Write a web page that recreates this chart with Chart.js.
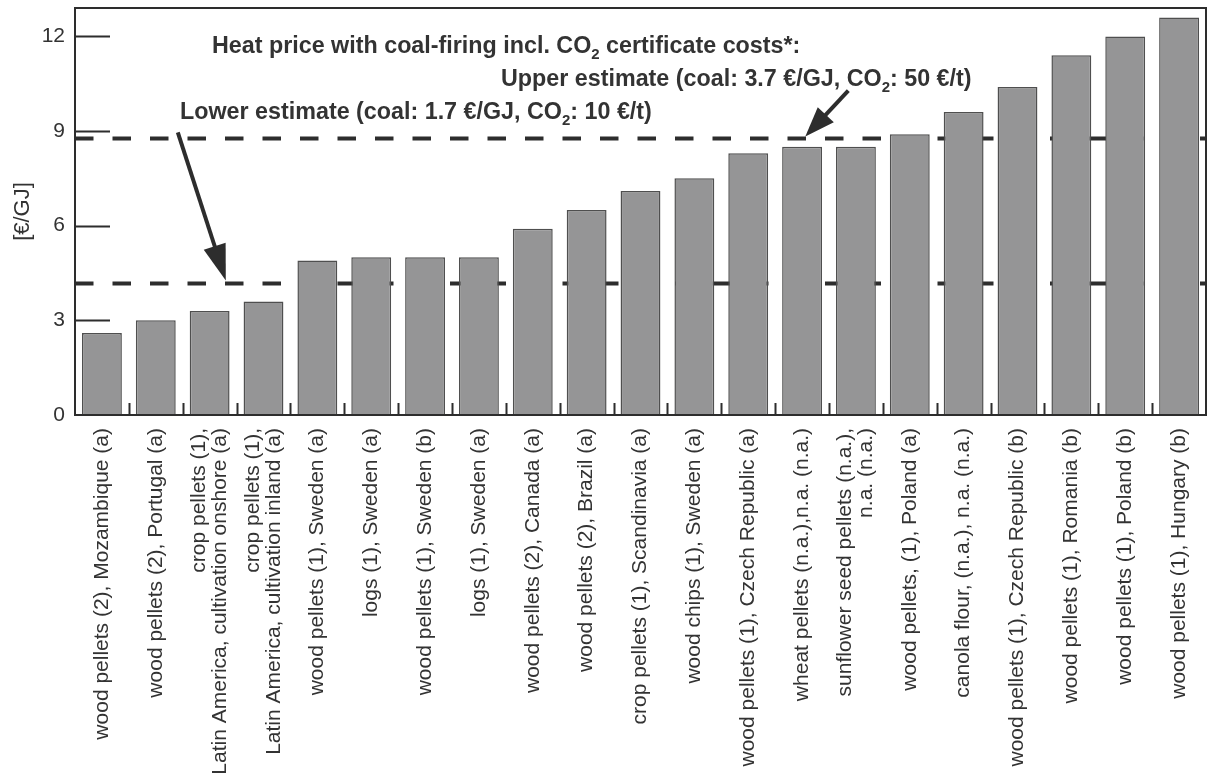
<!DOCTYPE html>
<html>
<head>
<meta charset="utf-8">
<script src="https://cdn.jsdelivr.net/npm/chart.js@4.4.0/dist/chart.umd.min.js"></script>
<style>
  html, body { margin: 0; padding: 0; background: #ffffff; }
  #wrap { width: 1208px; height: 775px; position: relative; }
</style>
</head>
<body>
<div id="wrap"><canvas id="c" width="1208" height="775"></canvas></div>
<script>
// Fuel / origin categories (ordered by heat price)
const categories = [
  'wood pellets (2), Mozambique (a)',
  'wood pellets (2), Portugal (a)',
  ['crop pellets (1),', 'Latin America, cultivation onshore (a)'],
  ['crop pellets (1),', 'Latin America, cultivation inland (a)'],
  'wood pellets (1), Sweden (a)',
  'logs (1), Sweden (a)',
  'wood pellets (1), Sweden (b)',
  'logs (1), Sweden (a)',
  'wood pellets (2), Canada (a)',
  'wood pellets (2), Brazil (a)',
  'crop pellets (1), Scandinavia (a)',
  'wood chips (1), Sweden (a)',
  'wood pellets (1), Czech Republic (a)',
  'wheat pellets (n.a.),n.a. (n.a.)',
  ['sunflower seed pellets (n.a.),', 'n.a. (n.a.)'],
  'wood pellets, (1), Poland (a)',
  'canola flour, (n.a.), n.a. (n.a.)',
  'wood pellets (1), Czech Republic (b)',
  'wood pellets (1), Romania (b)',
  'wood pellets (1), Poland (b)',
  'wood pellets (1), Hungary (b)'
];

// Heat price in €/GJ
const heatPrice = [2.6, 3.0, 3.3, 3.6, 4.9, 5.0, 5.0, 5.0, 5.9, 6.5, 7.1, 7.5, 8.3, 8.5, 8.5, 8.9, 9.6, 10.4, 11.4, 12.0, 12.6];

// Value axis ticks
const yTicks = [0, 3, 6, 9, 12];

// Coal-firing reference heat prices incl. CO2 certificate costs (€/GJ)
const coalLower = 4.17;
const coalUpper = 8.76;

const INK = '#2d2d2d';
const TEXT = '#333333';
const FONT = "'Liberation Sans', Arial, Helvetica, sans-serif";

// Text with a subscript "2" in CO2
function drawRich(ctx, parts, x, y) {
  let cx = x;
  for (const p of parts) {
    if (p.sub) {
      ctx.font = 'bold 15px ' + FONT;
      ctx.fillText(p.t, cx, y + 6);
    } else {
      ctx.font = 'bold 23.3px ' + FONT;
      ctx.fillText(p.t, cx, y);
    }
    cx += ctx.measureText(p.t).width;
  }
}

function drawArrow(ctx, tx, ty, fx, fy, headLen, headHalf) {
  const dx = tx - fx, dy = ty - fy;
  const len = Math.hypot(dx, dy);
  const ux = dx / len, uy = dy / len;
  const bx = tx - ux * headLen, by = ty - uy * headLen;
  ctx.strokeStyle = INK;
  ctx.fillStyle = INK;
  ctx.lineWidth = 4;
  ctx.setLineDash([]);
  ctx.beginPath();
  ctx.moveTo(fx, fy);
  ctx.lineTo(bx + ux * 4, by + uy * 4);
  ctx.stroke();
  ctx.beginPath();
  ctx.moveTo(tx, ty);
  ctx.lineTo(bx - uy * headHalf, by + ux * headHalf);
  ctx.lineTo(bx + uy * headHalf, by - ux * headHalf);
  ctx.closePath();
  ctx.fill();
}

// Center two-line category labels on their bars
const centerWrappedLabels = {
  id: 'centerWrappedLabels',
  beforeDraw(chart) {
    const xs = chart.scales.x;
    const items = xs.getLabelItems(chart.chartArea);
    for (const it of items) {
      if (Array.isArray(it.label) && !it._centered) {
        const lh = it.font.lineHeight;
        it.options.translation[0] -= (it.label.length - 1) * lh / 2;
        it._centered = true;
      }
    }
  }
};

// Dashed reference lines, drawn underneath the bars
const refLines = {
  id: 'refLines',
  beforeDatasetsDraw(chart) {
    const { ctx, chartArea: a, scales: { y } } = chart;
    ctx.save();
    ctx.strokeStyle = INK;
    ctx.lineWidth = 4;
    ctx.setLineDash([18.5, 19]);
    for (const v of [coalLower, coalUpper]) {
      const py = y.getPixelForValue(v);
      ctx.beginPath();
      ctx.moveTo(a.left, py);
      ctx.lineTo(a.right, py);
      ctx.stroke();
    }
    ctx.restore();
  }
};

// Frame, inward tick marks, arrows and annotation text
const overlay = {
  id: 'overlay',
  afterDraw(chart) {
    const { ctx, chartArea: a, scales: { x, y } } = chart;
    ctx.save();
    ctx.strokeStyle = INK;
    ctx.lineWidth = 2;
    ctx.setLineDash([]);
    ctx.strokeRect(a.left, a.top, a.right - a.left, a.bottom - a.top);

    // y ticks pointing inwards
    ctx.beginPath();
    for (const v of yTicks) {
      if (v === 0) continue;
      const py = Math.round(y.getPixelForValue(v)) + 0.5;
      ctx.moveTo(a.left, py);
      ctx.lineTo(a.left + 35, py);
    }
    ctx.stroke();

    // x ticks at category boundaries pointing upwards
    ctx.beginPath();
    for (let i = 0; i < categories.length - 1; i++) {
      const px = Math.round(x.getPixelForValue(i + 0.5)) + 0.5;
      ctx.moveTo(px, a.bottom);
      ctx.lineTo(px, a.bottom - 12);
    }
    ctx.stroke();

    // arrows pointing at the reference lines
    const lx = x.getPixelForValue(2.3), ly = y.getPixelForValue(coalLower) - 3;
    drawArrow(ctx, lx, ly, lx - 48, ly - 148, 36, 11.5);
    const ux = x.getPixelForValue(13.06), uy = y.getPixelForValue(coalUpper) - 2;
    drawArrow(ctx, ux, uy, ux + 43, uy - 46, 30, 11);

    // annotation text
    ctx.fillStyle = TEXT;
    ctx.textBaseline = 'alphabetic';
    ctx.textAlign = 'left';
    drawRich(ctx, [{ t: 'Heat price with coal-firing incl. CO' }, { t: '2', sub: true }, { t: ' certificate costs*:' }], a.left + 137, a.top + 45);
    drawRich(ctx, [{ t: 'Upper estimate (coal: 3.7 €/GJ, CO' }, { t: '2', sub: true }, { t: ': 50 €/t)' }], a.left + 426, a.top + 78);
    drawRich(ctx, [{ t: 'Lower estimate (coal: 1.7 €/GJ, CO' }, { t: '2', sub: true }, { t: ': 10 €/t)' }], a.left + 105, a.top + 111);
    ctx.restore();
  }
};

new Chart(document.getElementById('c'), {
  type: 'bar',
  data: {
    labels: categories,
    datasets: [{
      data: heatPrice,
      backgroundColor: '#959596',
      borderColor: '#4f4f4f',
      borderWidth: 1.5,
      barPercentage: 0.74,
      categoryPercentage: 1.0
    }]
  },
  options: {
    responsive: false,
    animation: false,
    devicePixelRatio: 1,
    layout: { padding: { top: 8, right: 2, left: 0, bottom: 0 } },
    plugins: { legend: { display: false }, tooltip: { enabled: false } },
    scales: {
      x: {
        grid: { display: false, drawTicks: false },
        border: { display: false },
        ticks: {
          autoSkip: false,
          minRotation: 90,
          maxRotation: 90,
          padding: 13,
          color: TEXT,
          font: { family: FONT, size: 21, lineHeight: 1.0 }
        },
        afterFit(scale) {
          scale.height = 360;
          scale.paddingLeft = 0;
          scale.paddingRight = 0;
        }
      },
      y: {
        min: 0,
        max: 12.9,
        afterBuildTicks(scale) { scale.ticks = yTicks.map(v => ({ value: v })); },
        grid: { display: false, drawTicks: false },
        border: { display: false },
        ticks: { padding: 10, color: TEXT, font: { family: FONT, size: 21 } },
        title: {
          display: true,
          text: '[€/GJ]',
          color: TEXT,
          font: { family: FONT, size: 22 },
          padding: { top: 10, bottom: 0 }
        },
        afterFit(scale) {
          scale.width = 75;
          scale.paddingTop = 0;
          scale.paddingBottom = 0;
        }
      }
    }
  },
  plugins: [centerWrappedLabels, refLines, overlay]
});
</script>
</body>
</html>
